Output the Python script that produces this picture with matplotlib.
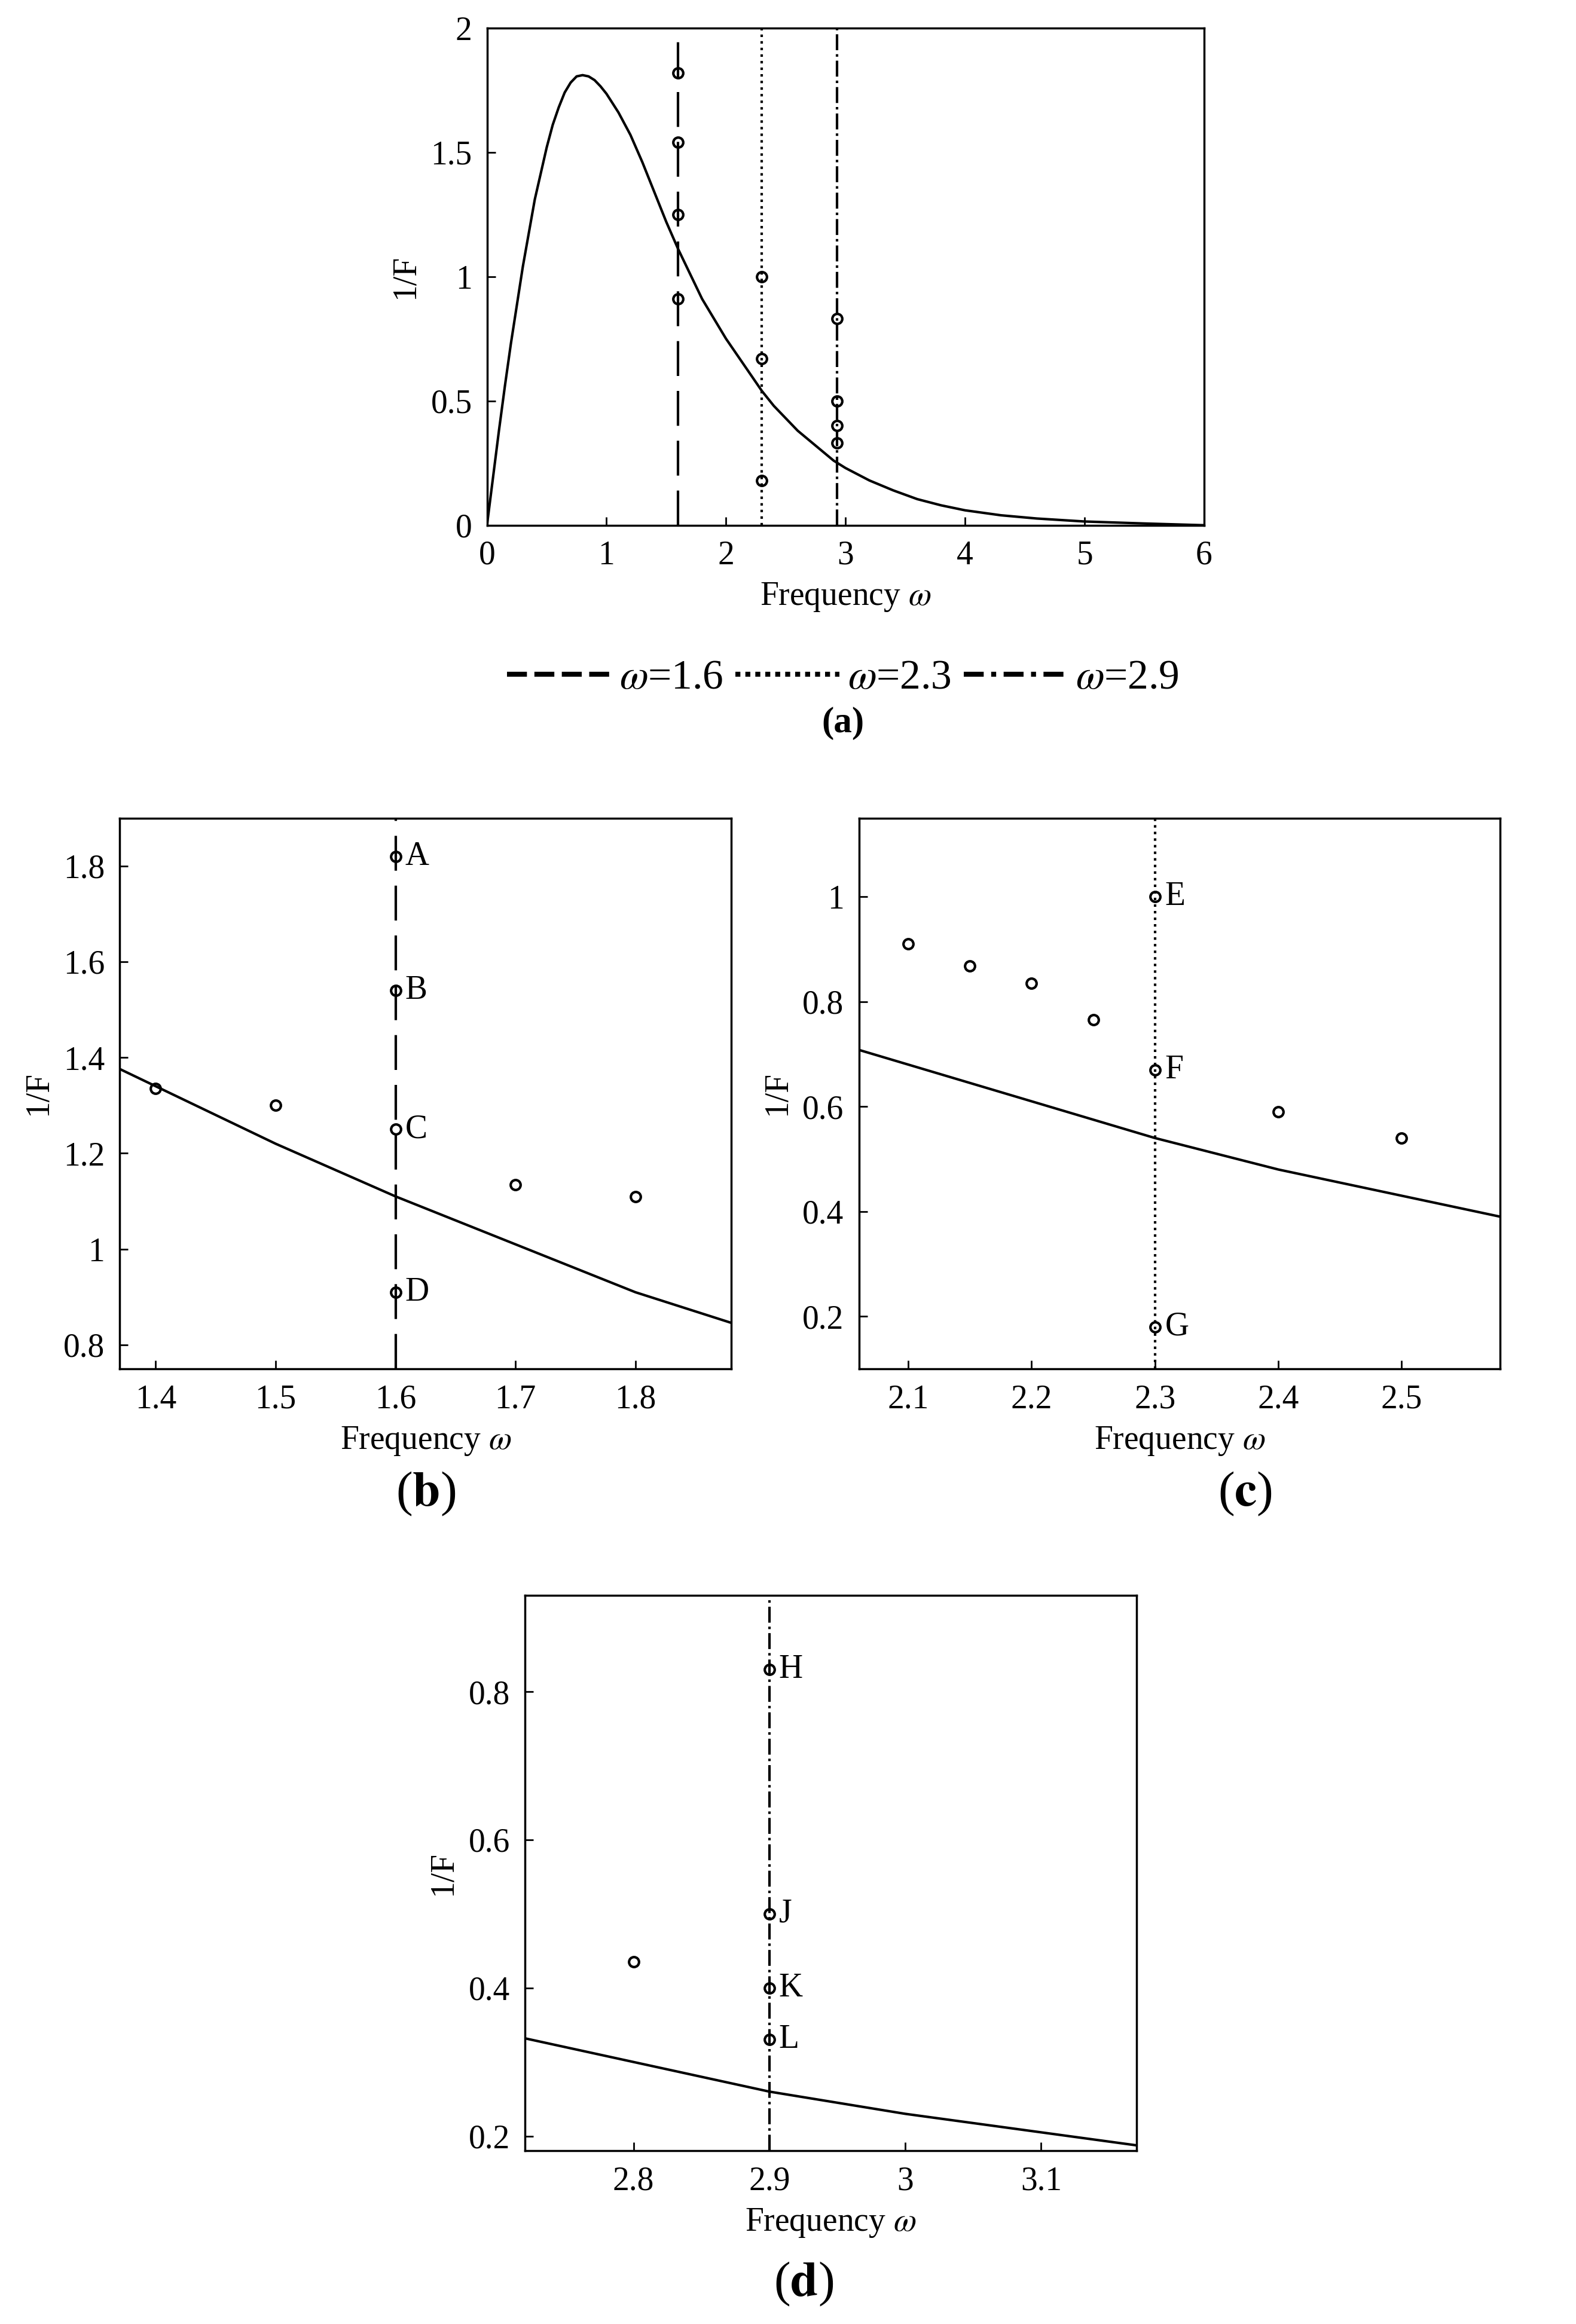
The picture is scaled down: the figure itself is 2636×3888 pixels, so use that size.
import matplotlib.pyplot as plt

plt.rcParams['font.family'] = ['Liberation Serif', 'DejaVu Serif']
plt.rcParams['mathtext.fontset'] = 'stix'

# curve 1/F
curve_w = [0, 0.05, 0.1, 0.15, 0.2, 0.3, 0.4, 0.5, 0.55, 0.6, 0.65, 0.7, 0.75, 0.8, 0.85,
           0.9, 0.95, 1.0, 1.1, 1.2, 1.3, 1.4, 1.5, 1.6, 1.7, 1.8, 1.9, 2.0, 2.1, 2.2, 2.3,
           2.4, 2.5, 2.6, 2.7, 2.8, 2.9, 3.0, 3.1, 3.2, 3.4, 3.6, 3.8, 4.0, 4.3, 4.6, 5.0,
           5.5, 6.0]
curve_f = [0, 0.19, 0.38, 0.56, 0.73, 1.04, 1.31, 1.52, 1.61, 1.68, 1.74, 1.78, 1.805,
           1.81, 1.805, 1.79, 1.765, 1.735, 1.66, 1.57, 1.46, 1.34, 1.22, 1.11, 1.01,
           0.91, 0.83, 0.75, 0.68, 0.61, 0.54, 0.48, 0.43, 0.38, 0.34, 0.30, 0.26, 0.23,
           0.205, 0.18, 0.14, 0.105, 0.08, 0.06, 0.04, 0.027, 0.015, 0.007, 0.0]

w_lines = [1.6, 2.3, 2.93]
pts_16 = [1.82, 1.54, 1.25, 0.91]
lab_16 = ['A', 'B', 'C', 'D']
pts_23 = [1.0, 0.67, 0.18]
lab_23 = ['E', 'F', 'G']
pts_29 = [0.83, 0.5, 0.4, 0.33]
lab_29 = ['H', 'J', 'K', 'L']

b_x = [1.4, 1.5, 1.7, 1.8]
b_y = [1.335, 1.30, 1.135, 1.11]
c_x = [2.1, 2.15, 2.2, 2.25, 2.4, 2.5]
c_y = [0.91, 0.868, 0.835, 0.765, 0.59, 0.54]
d_x = [2.8]
d_y = [0.435]

styles = [(0, (14, 6)), ':', '-.']
FS = 40
mk = dict(marker='o', ms=12, mfc='none', mec='black', mew=3, ls='none')

fig = plt.figure(figsize=(26.36, 38.88), dpi=100)


def setup(ax, xlim, ylim, xt, yt):
    ax.plot(curve_w, curve_f, color='black', lw=3)
    ax.set_xlim(*xlim)
    ax.set_ylim(*ylim)
    ax.set_xticks(xt)
    ax.set_yticks(yt)
    ax.set_xticklabels([f'{v:g}' for v in xt])
    ax.set_yticklabels([f'{v:g}' for v in yt])
    ax.tick_params(labelsize=FS, direction='in', length=10, width=2, pad=18)
    for s in ax.spines.values():
        s.set_linewidth(2.5)
    ax.set_xlabel(r'Frequency $\omega$', fontsize=FS, labelpad=12)
    ax.set_ylabel('1/F', fontsize=FS, labelpad=12)


# (a)
ax = fig.add_axes([0.309, 0.774, 0.455, 0.214])
setup(ax, (0, 6), (0, 2), [0, 1, 2, 3, 4, 5, 6], [0, 0.5, 1, 1.5, 2])
names = [r'$\omega$=1.6', r'$\omega$=2.3', r'$\omega$=2.9']
for w, st, nm in zip(w_lines, styles, names):
    ax.axvline(w, color='black', ls=st, lw=3, label=nm)
for w, pts in zip(w_lines, [pts_16, pts_23, pts_29]):
    ax.plot([w] * len(pts), pts, **mk)
leg = fig.legend(loc='center', bbox_to_anchor=(0.535, 0.708), ncol=3, frameon=False,
                 fontsize=50, handlelength=2.5, columnspacing=0.3, handletextpad=0.2)
legend_dashes = [[4, 1.5], [1, 1], [4, 1.5, 1, 1.5]]
for ln, ds in zip(leg.get_lines(), legend_dashes):
    ln.set_linewidth(6)
    ln.set_dashes(ds)
fig.text(0.535, 0.685, '(a)', ha='center', fontsize=44, fontweight='bold')

# (b)
ax = fig.add_axes([0.076, 0.411, 0.388, 0.237])
setup(ax, (1.37, 1.88), (0.75, 1.9), [1.4, 1.5, 1.6, 1.7, 1.8], [0.8, 1, 1.2, 1.4, 1.6, 1.8])
ax.axvline(1.6, color='black', ls=styles[0], lw=3)
ax.plot([1.6] * 4, pts_16, **mk)
for y, t in zip(pts_16, lab_16):
    ax.text(1.608, y, t, fontsize=FS, va='center')
ax.plot(b_x, b_y, **mk)
fig.text(0.27, 0.352, r'($\mathbf{b}$)', ha='center', fontsize=60)

# (c)
ax = fig.add_axes([0.545, 0.411, 0.407, 0.237])
setup(ax, (2.06, 2.58), (0.1, 1.15), [2.1, 2.2, 2.3, 2.4, 2.5], [0.2, 0.4, 0.6, 0.8, 1])
ax.axvline(2.3, color='black', ls=styles[1], lw=3)
ax.plot([2.3] * 3, pts_23, **mk)
for y, t in zip(pts_23, lab_23):
    ax.text(2.308, y, t, fontsize=FS, va='center')
ax.plot(c_x, c_y, **mk)
fig.text(0.79, 0.352, r'($\mathbf{c}$)', ha='center', fontsize=60)

# (d)
ax = fig.add_axes([0.333, 0.0745, 0.388, 0.239])
setup(ax, (2.72, 3.17), (0.18, 0.93), [2.8, 2.9, 3, 3.1], [0.2, 0.4, 0.6, 0.8])
ax.axvline(2.9, color='black', ls=styles[2], lw=3)
ax.plot([2.9] * 4, pts_29, **mk)
for y, t in zip(pts_29, lab_29):
    ax.text(2.907, y, t, fontsize=FS, va='center')
ax.plot(d_x, d_y, **mk)
fig.text(0.51, 0.012, r'($\mathbf{d}$)', ha='center', fontsize=60)

fig.savefig('out.png', dpi=100)
